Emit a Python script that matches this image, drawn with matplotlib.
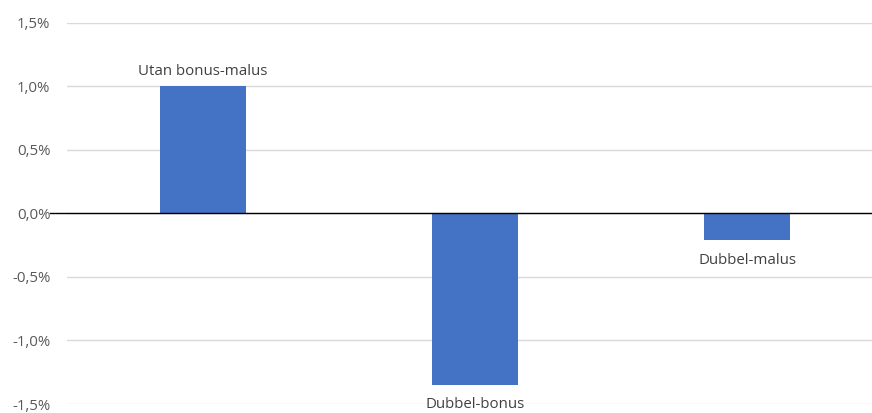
import matplotlib
matplotlib.use("Agg")
import matplotlib.pyplot as plt
import matplotlib.transforms as mtrans

categories = ["Utan bonus-malus", "Dubbel-bonus", "Dubbel-malus"]
values = [1.0, -1.35, -0.21]
yticks = [-1.5, -1.0, -0.5, 0.0, 0.5, 1.0, 1.5]

plt.rcParams['font.family'] = ['Open Sans', 'DejaVu Sans']

W, H = 872, 413
fig = plt.figure(figsize=(W / 100, H / 100), dpi=100)
left, right, top, bottom = 67, 872, 22.7, 404
ax = fig.add_axes([left / W, (H - bottom) / H, (right - left) / W, (bottom - top) / H])

x = list(range(len(categories)))
ax.bar(x, values, width=0.316, color="#4472C4", zorder=3)
ax.set_xlim(-0.5, -0.5 + (right - left) / 272.0)
ax.set_ylim(-1.5, 1.5)
ax.set_yticks(yticks)
ax.set_yticklabels([f"{t:.1f}%".replace(".", ",") for t in yticks], fontsize=10.8, color="#595959")
ax.tick_params(axis='y', length=0, pad=12)
ax.set_xticks([])
ax.grid(axis='y', color="#D9D9D9", linewidth=1, zorder=0)
for s in ax.spines.values():
    s.set_visible(False)

trans = mtrans.blended_transform_factory(ax.transAxes, ax.transData)
ax.plot([-0.021, 1.0], [0, 0], color="black", linewidth=1, transform=trans, clip_on=False, zorder=4)

for xi, v, name in zip(x, values, categories):
    if v >= 0:
        ax.annotate(name, (xi, v), xytext=(0, 5), textcoords="offset points",
                    ha="center", va="bottom", fontsize=10.8, color="#404040")
    else:
        ax.annotate(name, (xi, v), xytext=(0, -9), textcoords="offset points",
                    ha="center", va="top", fontsize=10.8, color="#404040", annotation_clip=False)

fig.savefig("out.png", dpi=100)
